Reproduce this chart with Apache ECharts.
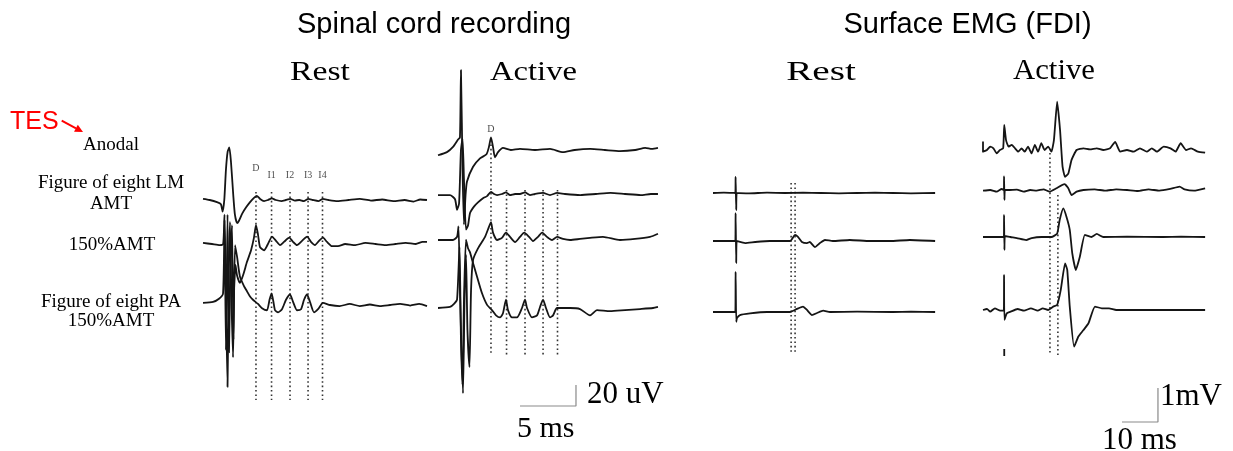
<!DOCTYPE html>
<html><head><meta charset="utf-8">
<script src="https://cdn.jsdelivr.net/npm/echarts@6/dist/echarts.min.js"></script>
<style>html,body{margin:0;padding:0;background:#fff}#c{width:1233px;height:451px}</style>
</head><body><div id="c"></div>
<script>
// ===== DATA: traces as [time (ms), amplitude] relative to each trace's baseline =====
// Spinal cord recording (µV), Rest
const restLM = [[0,1],[0.6,0],[1.25,-2],[1.6,-4],[1.75,-11],[1.9,0],[2.05,29],[2.2,46],[2.35,50],[2.5,36],[2.7,5],[2.85,-14],[3.05,-22],[3.2,-20],[3.5,-13],[3.85,-7],[4.2,-2],[4.55,2],[4.8,4],[5.1,1],[5.45,-1],[5.8,0],[6.15,1.5],[6.5,0],[7,-1],[7.4,0],[7.8,1],[8.2,-0.5],[8.6,0],[9,-1],[9.4,1],[9.8,0],[10.3,-1],[10.7,1],[11.2,0],[12,-1],[13,0],[14,1],[15,-0.5],[16,0.5],[17,-1],[18,0],[18.8,-1.5],[19.4,0.5],[20,0]];
const restLM150 = [[0,1],[0.8,0],[1.5,-1],[1.8,0],[1.92,28],[2.05,-53],[2.19,-136],[2.32,-15],[2.41,21],[2.54,-53],[2.68,-108],[2.77,-44],[2.9,-20],[3.04,-30],[3.3,-37],[3.57,-30],[3.93,-17],[4.29,-6],[4.55,6],[4.73,18],[4.91,9],[5.09,-3],[5.45,-6],[5.8,0],[6.16,7],[6.52,3],[6.88,-1],[7.23,2],[7.7,6],[8.04,2],[8.39,-1],[8.84,3],[9.3,7],[9.64,2],[10,-1],[10.36,3],[10.71,6],[11.07,2],[11.52,-2],[12.05,-2],[12.7,0],[13.6,-1],[14.5,1],[15.4,0],[16.3,-1],[17.2,0],[18.1,1],[19,0],[19.6,2],[20,2]];
const restPA = [[0,2],[0.9,3],[1.43,6],[1.79,11],[1.92,81],[2.05,-43],[2.19,86],[2.32,-45],[2.46,43],[2.59,76],[2.72,-33],[2.86,57],[3.04,46],[3.3,27],[3.66,18],[3.93,13],[4.2,8],[4.46,5],[4.91,1],[5.27,-3],[5.71,-5],[5.94,5],[6.12,11],[6.29,3],[6.43,-5],[6.7,-7],[7.05,-4],[7.41,5],[7.77,10],[8.04,3],[8.39,-5],[8.75,-4],[9.02,5],[9.29,10],[9.55,3],[9.91,-7],[10.27,-4],[10.71,2],[11.34,0],[12.2,-1],[13.1,1],[14,-1],[14.9,0.5],[15.8,-1],[16.7,0],[17.6,1],[18.5,-0.5],[19.3,1],[20,-1]];
// Spinal cord recording (µV), Active
const actAnodal = [[0,-5],[0.8,-2],[1.34,3],[1.79,10],[1.96,12],[2.05,76],[2.19,-19],[2.32,-71],[2.46,-43],[2.59,-30],[3.13,-16],[3.75,-8],[4.33,-4],[4.55,3],[4.73,12],[4.91,3],[5.09,-7],[5.36,-2],[5.8,2],[6.5,0],[7.32,1],[8.66,0],[10,1],[11.16,-2],[12.2,0],[13.6,1],[14.9,0],[16.25,-1],[17.6,0],[18.5,2],[19.1,1],[19.64,2]];
const actLM = [[0,-1],[1.07,-1],[1.52,-5],[1.7,-15],[1.88,-9],[2.05,42],[2.19,53],[2.32,13],[2.5,-34],[2.68,-30],[2.86,-18],[3.21,-12],[3.57,-8],[4.02,-4],[4.38,-2],[4.73,2],[5,0],[5.27,-1],[5.71,0],[6.07,1.5],[6.43,-1],[6.88,0],[7.32,0],[7.77,1.5],[8.21,-1],[8.66,0],[9.38,1],[10,-1],[10.63,1],[11.34,0],[12.7,-1],[14.1,0],[15.4,1],[16.7,0],[18.1,-1],[19,0],[19.64,0]];
const actLM150 = [[0,0],[0.9,0],[1.34,0],[1.7,3],[1.83,13],[1.96,-48],[2.1,-105],[2.23,-146],[2.37,-57],[2.5,-14],[2.63,-86],[2.81,-121],[2.95,-48],[3.13,-19],[3.57,-8],[4.2,3],[4.46,10],[4.73,17],[4.91,7],[5.27,0],[5.71,2],[6.07,7],[6.43,3],[6.88,-2],[7.32,3],[7.7,7],[8.13,3],[8.48,-1],[8.93,3],[9.3,7],[9.73,3],[10.18,0],[10.63,3],[11.16,1],[11.79,0],[12.68,1],[13.57,2],[14.73,3],[16.25,0],[17.59,1],[18.93,3],[19.64,6]];
const actPA = [[0,0],[1.07,1],[1.43,4],[1.7,8],[1.92,58],[2.05,-30],[2.19,-73],[2.32,8],[2.5,65],[2.68,57],[2.86,53],[3.04,46],[3.48,30],[3.93,14],[4.38,3],[4.82,-2],[5.18,-7],[5.54,-9],[5.8,-5],[6.07,8],[6.25,-2],[6.61,-9],[7.05,-9],[7.5,0],[7.77,8],[7.95,0],[8.39,-9],[8.84,-7],[9.11,1],[9.38,8],[9.64,0],[10,-9],[10.27,-7],[10.63,0],[11.79,0],[12.68,-1],[13.57,-7],[14.2,-2],[15.36,-3],[16.7,-2],[18.04,-1],[19.2,0],[19.64,1]];
// Surface EMG (mV), Rest
const emgRestLM = [[0,0],[3,0.01],[6.2,0],[6.28,0.47],[6.45,-0.5],[6.6,0],[10,-0.01],[15,0.01],[20,0],[25,0.01],[30,0],[35,-0.01],[40,0],[45,0.01],[50,0],[55,-0.01],[61.7,0]];
const emgRest150 = [[0,0],[6.2,0],[6.28,0.82],[6.45,-0.65],[6.6,0],[8.9,-0.06],[11.7,-0.03],[15.8,0],[21.4,0],[22.8,0.18],[23.6,0.12],[24.7,-0.03],[26.1,-0.06],[26.9,-0.03],[28.3,-0.18],[29.7,-0.06],[31.1,0.03],[33.3,0],[38,0.03],[43.6,0],[49.2,0],[54.7,0.03],[61.7,0]];
const emgRestPA = [[0,0],[3.3,0],[6.2,0],[6.28,1.18],[6.45,-0.29],[6.65,-0.18],[7.5,-0.09],[10.3,-0.04],[15,0],[21.4,0],[23.3,0.09],[25,0.16],[26.1,0.06],[27.5,-0.09],[28.9,-0.03],[30.6,0.04],[32.5,0],[40,0.01],[50,0],[55,0.01],[61.7,0]];
// Surface EMG (mV), Active
const emgActAnodal = [[0,0.25],[0,-0.05],[1.1,0],[2,0.1],[2.9,0.05],[3.8,-0.1],[4.7,0],[5.6,0.05],[5.9,0.74],[6.4,0.29],[7.1,0.1],[8,0.15],[8.9,0.05],[9.8,-0.05],[10.7,0.05],[11.6,-0.05],[12.5,0.1],[13.5,-0.1],[14.4,0.15],[15.3,-0.05],[16.2,0.2],[17.1,0],[18.1,0.1],[19,-0.05],[19.7,0.29],[20.6,1.42],[21.4,0.59],[22.1,-0.49],[22.8,-0.79],[23.7,-0.69],[24.6,-0.29],[26,0],[27.9,0.05],[29.7,0.02],[31.6,0.05],[33.4,0],[35.3,0.05],[36.7,0.24],[38.1,-0.05],[40,0],[41.8,-0.05],[43.6,0.05],[45.5,-0.05],[46.9,0.05],[48.3,-0.05],[50.2,0.1],[52.1,0.05],[53.5,-0.05],[54.9,0.2],[56.4,0],[57.8,0.05],[59.7,-0.05],[61.7,-0.08]];
const emgActLM = [[0,-0.02],[2,0],[3.8,-0.05],[5.2,0.03],[5.8,0],[5.85,0.4],[5.95,-0.29],[6.1,0],[7.1,0],[9.4,0.01],[11.3,-0.05],[13.1,0],[14.9,-0.02],[16.8,0.02],[18.5,-0.05],[20.4,0.05],[22.6,0.17],[23.7,0.05],[24.6,-0.15],[26,-0.05],[27.9,0],[31,0.02],[34,-0.02],[37,0.02],[40,0],[43,-0.03],[46,0.02],[49,-0.02],[52,0.03],[54.6,0.1],[56,0.02],[58.6,-0.02],[61.7,0.05]];
const emgAct150 = [[0,0],[3.8,0],[5.2,0],[5.8,0],[5.85,0.65],[5.95,-0.38],[6.1,0.03],[7.6,0],[9.4,-0.03],[12,-0.09],[13.5,-0.03],[16.3,0],[19,0],[20.6,0.1],[21.3,0.5],[22.3,0.84],[23.2,0.59],[24.1,0.21],[24.8,-0.48],[25.8,-0.97],[26.9,-0.58],[28.3,0.06],[30.1,0],[31.6,0.09],[33.4,0],[40,0.01],[50,0],[55,0.01],[61.7,0]];
const emgActPA = [[0,0],[1.1,0.03],[2,-0.05],[3.3,0.05],[4.8,-0.02],[5.8,0],[5.85,1.03],[5.95,-0.29],[6.6,-0.1],[7.7,-0.05],[9.6,0.03],[11.4,-0.02],[13.3,0.05],[15.2,-0.02],[16.6,0.05],[18.1,0],[19.5,0.1],[20.6,0.15],[21.6,0.59],[22.8,1.37],[23.4,1.18],[24.1,0.1],[25.3,-1.08],[26.5,-0.78],[27.9,-0.59],[29.3,-0.39],[31.1,0.1],[33,0.05],[35,0.05],[37,0],[45,0],[52,0],[61.7,0]];

// Wave latencies (ms) and names for the dotted markers
const waveNames = ['D','I1','I2','I3','I4'];
const waveLatencies = [4.73, 6.12, 7.77, 9.38, 10.67];
const emgRestOnsets = [21.7, 22.8];
const emgActOnsets = [18.6, 20.8];
const stimTickAct = 5.9; // ms, isolated stimulus tick under the active EMG panel

// Calibration bars
const spinalScale = { ms: 5, uV: 20, label: ['20 uV', '5 ms'] };
const emgScale = { ms: 10, mV: 1, label: ['1mV', '10 ms'] };

// Text
const groupTitles = ['Spinal cord recording', 'Surface EMG (FDI)'];
const panelTitles = ['Rest', 'Active', 'Rest', 'Active'];
const rowLabels = ['Anodal', 'Figure of eight LM', 'AMT', '150%AMT', 'Figure of eight PA', '150%AMT'];

// ===== LAYOUT (positions / styles) =====
const SP_PX_PER_UV = 1.05, EMG_PX_PER_MV = 34;
const GT = 40, GH = 400;
const grids = [
  {left: 203, top: GT, width: 224, height: GH, xMax: 20, yMax: GH / SP_PX_PER_UV},
  {left: 438, top: GT, width: 224, height: GH, xMax: 20, yMax: GH / SP_PX_PER_UV},
  {left: 713, top: GT, width: 223.2, height: GH, xMax: 62, yMax: GH / EMG_PX_PER_MV},
  {left: 983, top: GT, width: 223.2, height: GH, xMax: 62, yMax: GH / EMG_PX_PER_MV}
];
const base = (px, g) => (GT + GH - px) / (g < 2 ? SP_PX_PER_UV : EMG_PX_PER_MV);
const traceSets = [
  {g: 0, list: [[restLM, 200], [restLM150, 244], [restPA, 305]]},
  {g: 1, list: [[actAnodal, 150], [actLM, 194], [actLM150, 240], [actPA, 308]]},
  {g: 2, list: [[emgRestLM, 193], [emgRest150, 241], [emgRestPA, 312]]},
  {g: 3, list: [[emgActAnodal, 150], [emgActLM, 190], [emgAct150, 237], [emgActPA, 310]]}
];

const INK = '#151515';
const series = [];
traceSets.forEach(set => {
  set.list.forEach(([d, bpx]) => {
    const off = base(bpx, set.g);
    series.push({
      type: 'line', xAxisIndex: set.g, yAxisIndex: set.g, symbol: 'none', clip: false, silent: true,
      animation: false, z: 3, smooth: set.g < 2 ? 0.2 : 0.15,
      data: d.map(p => [p[0], p[1] + off]),
      lineStyle: {color: INK, width: 1.8, join: 'round'}
    });
  });
});

function vline(g, t, y0px, y1px) {
  series.push({
    type: 'line', xAxisIndex: g, yAxisIndex: g, symbol: 'none', clip: false, silent: true, animation: false, z: 2,
    data: [[t, base(y0px, g)], [t, base(y1px, g)]],
    lineStyle: {color: '#333', width: 1.6, type: [1.6, 2.8]}
  });
}
waveLatencies.forEach((t) => vline(0, t, 192, 400));
waveLatencies.forEach((t, i) => vline(1, t, i === 0 ? 140 : 190, 355));
emgRestOnsets.forEach(t => vline(2, t, 183, 353));
emgActOnsets.forEach((t, i) => vline(3, t, i === 0 ? 153 : 195, 355));

// wave name labels
function labels(g, items) {
  series.push({
    type: 'scatter', xAxisIndex: g, yAxisIndex: g, symbolSize: 0, silent: true, animation: false, z: 4,
    data: items,
    label: {show: true, position: 'inside', formatter: p => p.name, fontFamily: 'Liberation Serif', fontSize: 10, color: '#222'}
  });
}
labels(0, waveNames.map((n, i) => ({name: n, value: [waveLatencies[i], base(i === 0 ? 168 : 175, 0)]})));
labels(1, [{name: waveNames[0], value: [waveLatencies[0], base(129, 1)]}]);

// calibration bars
function bar(g, pts) {
  series.push({
    type: 'line', xAxisIndex: g, yAxisIndex: g, symbol: 'none', clip: false, silent: true, animation: false, z: 2,
    data: pts, lineStyle: {color: '#8a8a8a', width: 1.2}
  });
}
{
  const t = 12.32, v = base(406, 1);
  bar(1, [[t - spinalScale.ms, v], [t, v], [t, v + spinalScale.uV]]);
  const t2 = 48.6, v2 = base(422, 3);
  bar(3, [[t2 - emgScale.ms, v2], [t2, v2], [t2, v2 + emgScale.mV]]);
}
// stim tick under active EMG
series.push({
  type: 'line', xAxisIndex: 3, yAxisIndex: 3, symbol: 'none', clip: false, silent: true, animation: false,
  data: [[stimTickAct, base(349, 3)], [stimTickAct, base(356, 3)]],
  lineStyle: {color: INK, width: 1.8}
});

function txt(text, x, y, size, family, opts = {}) {
  return Object.assign({
    type: 'text', x, y, silent: true,
    style: {text, fill: opts.fill || '#000', font: size + 'px "' + family + '"',
      textAlign: opts.align || 'center', align: opts.align || 'center',
      textVerticalAlign: 'middle', verticalAlign: 'middle'}
  }, opts.scaleX ? {scaleX: opts.scaleX} : {});
}
const SERIF = 'Liberation Serif', SANS = 'Liberation Sans';
const graphic = [
  txt(groupTitles[0], 434, 25, 29, SANS),
  txt(groupTitles[1], 967.5, 25, 29, SANS),
  txt(panelTitles[0], 320, 73, 27, SERIF, {scaleX: 1.25}),
  txt(panelTitles[1], 533.5, 72.2, 28, SERIF, {scaleX: 1.165}),
  txt(panelTitles[2], 821, 72.2, 28, SERIF, {scaleX: 1.4}),
  txt(panelTitles[3], 1054, 71.2, 29, SERIF, {scaleX: 1.06}),
  txt('TES', 10, 122.5, 25, SANS, {align: 'left', fill: '#ff0000'}),
  {type: 'line', silent: true, shape: {x1: 61.7, y1: 120.7, x2: 76, y2: 128.3}, style: {stroke: '#ff0000', lineWidth: 2}},
  {type: 'polygon', silent: true, shape: {points: [[83, 132], [74, 131.8], [77.8, 124.8]]}, style: {fill: '#ff0000'}},
  txt(rowLabels[0], 111, 145.5, 19, SERIF),
  txt(rowLabels[1], 111, 183, 19, SERIF),
  txt(rowLabels[2], 111, 204, 19, SERIF),
  txt(rowLabels[3], 112, 245.5, 19, SERIF),
  txt(rowLabels[4], 111, 302, 19, SERIF),
  txt(rowLabels[5], 111, 321, 19, SERIF),
  txt(spinalScale.label[0], 587, 394.5, 31, SERIF, {align: 'left'}),
  txt(spinalScale.label[1], 517, 429, 30, SERIF, {align: 'left'}),
  txt(emgScale.label[0], 1160, 397, 31, SERIF, {align: 'left'}),
  txt(emgScale.label[1], 1102, 440.5, 31, SERIF, {align: 'left'})
];

const chart = echarts.init(document.getElementById('c'), null, {renderer: 'canvas'});
chart.setOption({
  animation: false,
  backgroundColor: '#ffffff',
  grid: grids.map(g => ({left: g.left, top: g.top, width: g.width, height: g.height, show: false})),
  xAxis: grids.map((g, i) => ({type: 'value', gridIndex: i, min: 0, max: g.xMax, show: false})),
  yAxis: grids.map((g, i) => ({type: 'value', gridIndex: i, min: 0, max: g.yMax, show: false})),
  series,
  graphic
});
</script></body></html>
